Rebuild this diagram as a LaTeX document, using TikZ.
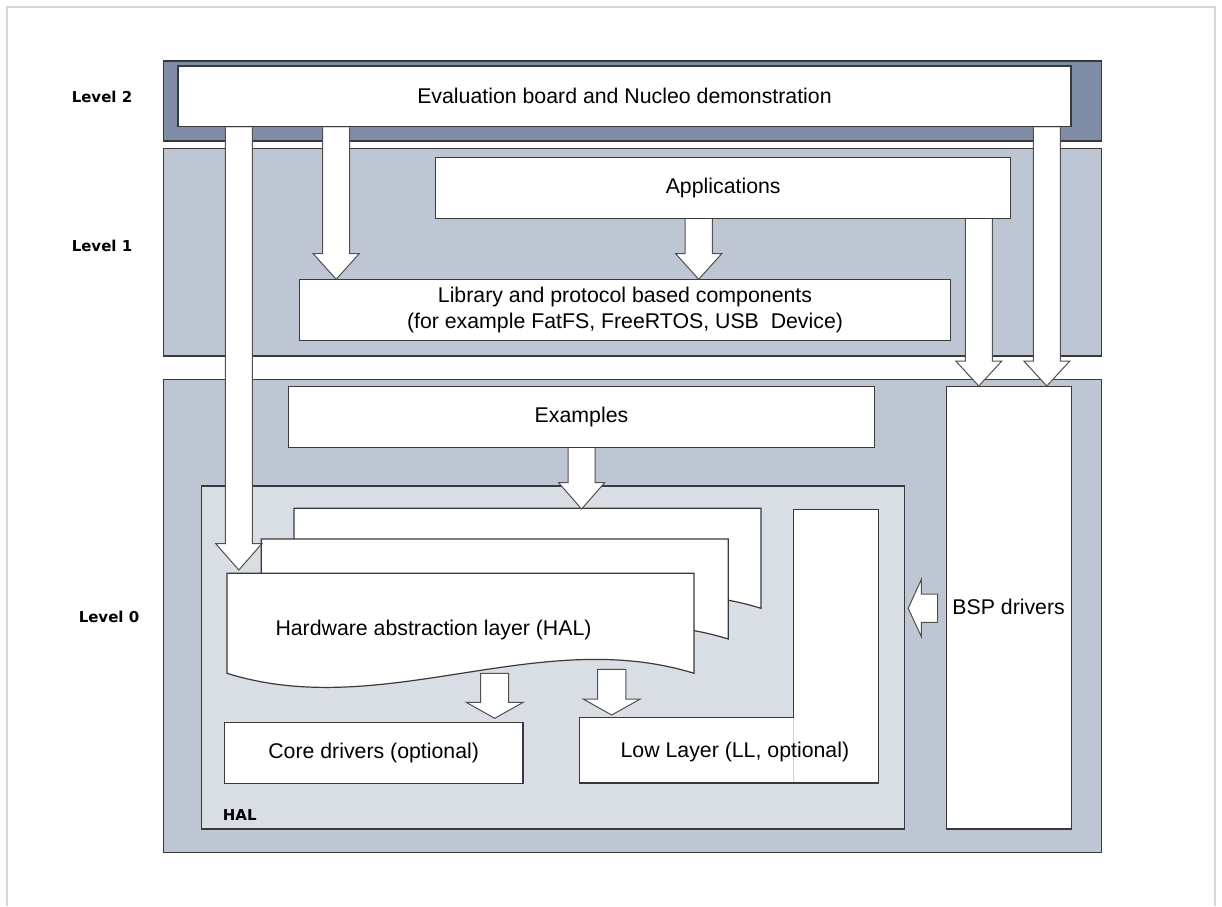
\documentclass[tikz,border=0pt]{standalone}
\usepackage{fontspec}
\setmainfont{Liberation Sans}
\newfontfamily\lvlfont{DejaVu Sans}
\usetikzlibrary{fit}
\definecolor{lvtwo}{HTML}{7F8EA6}
\definecolor{lvone}{HTML}{BFC6D3}
\definecolor{halbg}{HTML}{D9DDE4}
\definecolor{edgegray}{HTML}{3A3A3A}
\definecolor{arrowgray}{HTML}{505050}
\definecolor{frameg}{HTML}{D3D8DE}
\definecolor{seamgray}{HTML}{D0D0D0}
\tikzset{
  band/.style={draw=edgegray, line width=1.2pt, inner sep=0pt, outer sep=0pt},
  box/.style={draw=edgegray, fill=white, line width=1.2pt, inner sep=0pt, outer sep=0pt},
  blk/.style={draw=arrowgray, fill=white, line width=1pt, line join=miter},
  txt/.style={font=\fontsize{21.3}{25.4}\selectfont, text=black, align=center, inner sep=0pt},
  lvl/.style={font=\lvlfont\bfseries\fontsize{15}{18}\selectfont, text=black, inner sep=0pt}
}
% down block arrow: cx, ytop, shaft half, ybase, head half, ytip
\newcommand\downblk[6]{%
  \draw[blk] ({#1-#3},#2) -- ({#1-#3},#4) -- ({#1-#5},#4) -- (#1,#6) -- ({#1+#5},#4) -- ({#1+#3},#4) -- ({#1+#3},#2);}
\newcommand\downblkc[6]{%
  \draw[blk] ({#1-#3},#2) -- ({#1-#3},#4) -- ({#1-#5},#4) -- (#1,#6) -- ({#1+#5},#4) -- ({#1+#3},#4) -- ({#1+#3},#2) -- cycle;}
\newcommand\docpage[2]{%
  \draw[box, shift={(#1,#2)}] (227,573.3) -- (694,573.3) -- (694,673.3)
    .. controls (538,625) and (383,722) .. (227,673.3) -- cycle;}
\begin{document}
\begin{tikzpicture}[x=1pt,y=-1pt]
\useasboundingbox (0,0) rectangle (1222,906);
\fill[white] (0,0) rectangle (1222,906);
\draw[frameg, line width=1.5pt] (7,906) -- (7,7) -- (1215,7) -- (1215,906);

% level bands
\node[band, fill=lvtwo, fit={(163.3,61)(1101.7,141)}] (lv2) {};
\node[band, fill=lvone, fit={(163.3,148.7)(1101.7,356)}] (lv1) {};
\node[band, fill=lvone, fit={(163.3,379.3)(1101.7,852.3)}] (lv0) {};

\node[lvl] (l2) at (102,97) {Level 2};
\node[lvl] (l1) at (102,246) {Level 1};
\node[lvl] (l0) at (109,617) {Level 0};

% level 2
\node[box, fit={(178,66)(1071,126.7)}] (eval) {};
\node[txt] at (eval.center) {Evaluation board and Nucleo demonstration};

% level 1
\node[box, fit={(435.7,157.3)(1010.7,218.3)}] (apps) {};
\node[txt] at (apps.center) {Applications};
\node[box, fit={(299.7,279.3)(950.3,340.7)}] (lib) {};
\node[txt] at (lib.center) {Library and protocol based components\\(for example FatFS, FreeRTOS, USB\ \ Device)};

% level 0
\node[box, fit={(288.3,386.7)(874.7,447.3)}] (ex) {};
\node[txt] at (ex.center) {Examples};
\node[box, fit={(946.7,386.7)(1071.4,829)}] (bsp) {};
\node[txt] at (1008.6,607.3) {BSP drivers};

% HAL region
\node[band, fill=halbg, fit={(201.3,486)(904.6,829)}] (hal) {};
\node[lvl, anchor=west] at (222.7,815) {HAL};

\docpage{67}{-65}
\docpage{34.3}{-34.3}
\docpage{0}{0}
\node[txt, anchor=west] (haltxt) at (275.3,630) {Hardware abstraction layer (HAL)};

% LL L-shape
\draw[box] (579.3,717.7) -- (793.2,717.7) -- (793.2,509.3) -- (878.2,509.3) -- (878.2,783) -- (579.3,783) -- cycle;
\draw[seamgray, line width=0.8pt] (793.2,718.3) -- (793.2,782.4);
\node[txt] (ll) at (734.9,751.7) {Low Layer (LL, optional)};

\node[box, fit={(224.3,722.3)(523,783.3)}] (core) {};
\node[txt] at (core.center) {Core drivers (optional)};

% block arrows
\downblk{238.8}{127.4}{13.5}{543.7}{23}{570}
\downblk{336.2}{127.4}{13.5}{253.7}{23}{279.3}
\downblk{698.7}{219}{13.6}{253.7}{23}{279.3}
\downblk{978.8}{219}{13.5}{361}{23}{386}
\downblk{1046.8}{127.4}{13.5}{361}{23}{386}
\downblk{581.6}{448}{13.6}{482.7}{23}{509}
\downblkc{494.7}{673.3}{14}{702.3}{28.5}{718.3}
\downblkc{611.7}{669.3}{14.2}{699}{28.6}{715}
\draw[blk] (937.5,594) -- (921.4,594) -- (921.4,579.3) -- (908.2,608.3) -- (921.4,636.7) -- (921.4,622.3) -- (937.5,622.3) -- cycle;
\end{tikzpicture}
\end{document}
